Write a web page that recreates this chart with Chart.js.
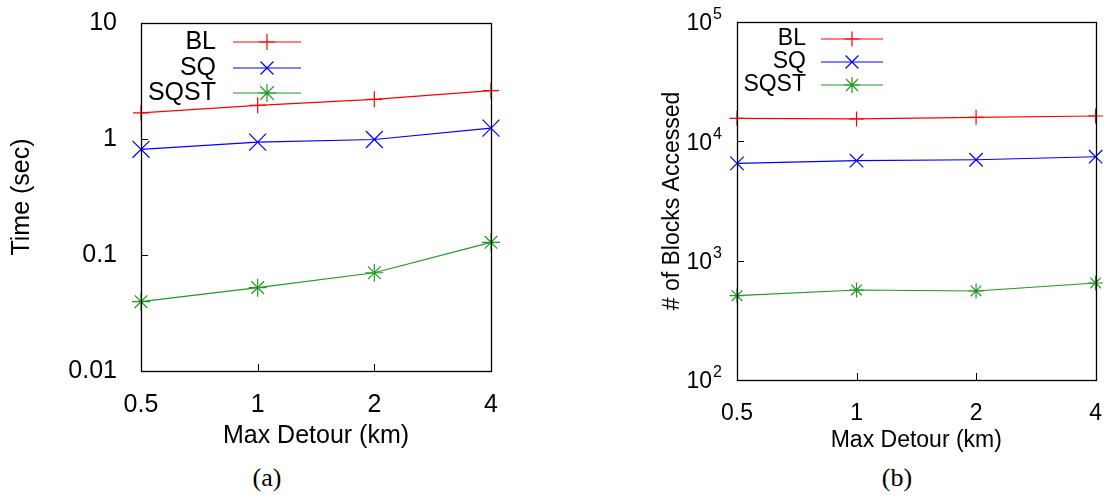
<!DOCTYPE html>
<html>
<head>
<meta charset="utf-8">
<script src="https://cdn.jsdelivr.net/npm/chart.js@4"></script>
<style>
  body { margin: 0; background: #fff; width: 1107px; height: 498px; overflow: hidden; position: relative; }
  .box { position: absolute; }
  .cap { position: absolute; width: 100px; text-align: center; font: 26px "Liberation Serif", "Times New Roman", serif; line-height: 30px; color: #000; }
</style>
</head>
<body>
<div class="box" style="left:0;top:-8px;width:520px;height:459px"><canvas id="timeChart"></canvas></div>
<div class="box" style="left:650px;top:0;width:464px;height:454px"><canvas id="blockChart"></canvas></div>
<div class="cap" style="left:217px;top:463px">(a)</div>
<div class="cap" style="left:847px;top:463px">(b)</div>
<script>
// data
const detours = ['0.5', '1', '2', '4'];
const seriesNames = ['BL', 'SQ', 'SQST'];

const timeBL = [1.68, 1.95, 2.2, 2.61];
const timeSQ = [0.815, 0.94, 0.99, 1.24];
const timeSQST = [0.0396, 0.0523, 0.0703, 0.1286];
const timeTicks = [0.01, 0.1, 1, 10];
const timeTickLabels = ['0.01', '0.1', '1', '10'];

const blocksBL = [15600, 15400, 15900, 16300];
const blocksSQ = [6540, 6880, 7010, 7430];
const blocksSQST = [509, 568, 557, 650];
const blockTicks = [100, 1000, 10000, 100000];
const blockTickBase = '10';
const blockTickExp = ['2', '3', '4', '5'];

const FONT = '"Liberation Sans", Arial, sans-serif';
const colors = ['#ff0000', '#0000ff', '#229922'];
const styles = ['cross', 'crossRot', 'star'];

function drawMarker(ctx, style, x, y, r) {
    ctx.beginPath();
    if (style === 'cross' || style === 'star') {
        ctx.moveTo(x - r, y); ctx.lineTo(x + r, y);
        ctx.moveTo(x, y - r); ctx.lineTo(x, y + r);
    }
    if (style === 'crossRot' || style === 'star') {
        const d = style === 'star' ? r * 0.75 : r * 0.72;
        ctx.moveTo(x - d, y - d); ctx.lineTo(x + d, y + d);
        ctx.moveTo(x - d, y + d); ctx.lineTo(x + d, y - d);
    }
    ctx.stroke();
}

// legend inside the plot: text on the left, sample line on the right
const insideLegend = {
    id: 'insideLegend',
    afterDraw(chart, args, opts) {
        const ctx = chart.ctx;
        ctx.save();
        ctx.font = opts.fontSize + 'px ' + FONT;
        ctx.textAlign = 'right';
        ctx.textBaseline = 'middle';
        chart.data.datasets.forEach((ds, i) => {
            const y = opts.rowY[i];
            ctx.fillStyle = '#000';
            ctx.fillText(ds.label, opts.textRight, y);
            ctx.strokeStyle = ds.borderColor;
            ctx.lineWidth = 1.2;
            ctx.beginPath();
            ctx.moveTo(opts.lineStart, y);
            ctx.lineTo(opts.lineEnd, y);
            ctx.stroke();
            drawMarker(ctx, ds.pointStyle, (opts.lineStart + opts.lineEnd) / 2, y, opts.markerSize[i]);
        });
        ctx.restore();
    }
};

// 10^n labels with a raised exponent
const powerLabels = {
    id: 'powerLabels',
    afterDraw(chart, args, opts) {
        if (!opts.exps) return;
        const ctx = chart.ctx;
        const s = chart.scales.y;
        const right = chart.chartArea.left - opts.gap;
        ctx.save();
        ctx.fillStyle = '#000';
        ctx.textBaseline = 'middle';
        s.ticks.forEach((t, i) => {
            const py = s.getPixelForValue(t.value);
            ctx.font = opts.expSize + 'px ' + FONT;
            const ew = ctx.measureText(opts.exps[i]).width;
            ctx.textAlign = 'left';
            ctx.fillText(opts.exps[i], right - ew, py - 7);
            ctx.font = opts.size + 'px ' + FONT;
            ctx.textAlign = 'right';
            ctx.fillText(opts.base, right - ew - 1, py + 2);
        });
        ctx.restore();
    }
};

// frame and inward tick marks, gnuplot style
const frameTicks = {
    id: 'frameTicks',
    afterDraw(chart) {
        const ctx = chart.ctx;
        const a = chart.chartArea;
        ctx.save();
        ctx.strokeStyle = '#000';
        ctx.lineWidth = 1;
        ctx.beginPath();
        const yScale = chart.scales.y;
        yScale.ticks.forEach(t => {
            const py = Math.round(yScale.getPixelForValue(t.value)) + 0.5;
            ctx.moveTo(a.left, py);
            ctx.lineTo(a.left + 7, py);
        });
        const xScale = chart.scales.x;
        xScale.ticks.forEach((t, i) => {
            const px = Math.round(xScale.getPixelForTick(i)) + 0.5;
            ctx.moveTo(px, a.bottom);
            ctx.lineTo(px, a.bottom - 7);
        });
        ctx.stroke();
        ctx.lineWidth = 1.3;
        ctx.strokeRect(Math.round(a.left) + 0.5, Math.round(a.top) + 0.5,
            Math.round(a.right - a.left), Math.round(a.bottom - a.top));
        ctx.restore();
    }
};

function makeDatasets(values, radii) {
    return values.map((v, i) => ({
        label: seriesNames[i],
        data: v,
        borderColor: colors[i],
        backgroundColor: colors[i],
        borderWidth: 1.2,
        pointStyle: styles[i],
        pointRadius: radii[i],
        pointBorderWidth: 1.2,
        pointHoverRadius: radii[i],
        fill: false,
        tension: 0,
        clip: false
    }));
}

function makeChart(id, cfg) {
    return new Chart(document.getElementById(id).getContext('2d'), {
        type: 'line',
        data: {
            labels: detours,
            datasets: makeDatasets(cfg.values, cfg.radii)
        },
        options: {
            responsive: true,
            maintainAspectRatio: false,
            animation: false,
            events: [],
            layout: { padding: cfg.padding },
            plugins: {
                legend: { display: false },
                tooltip: { enabled: false },
                insideLegend: cfg.legend,
                powerLabels: cfg.power || {}
            },
            scales: {
                x: {
                    type: 'category',
                    offset: false,
                    grid: { display: false },
                    border: { display: false },
                    ticks: {
                        color: '#000',
                        font: { family: FONT, size: cfg.fontSize },
                        padding: cfg.xTickPad,
                        maxRotation: 0,
                        autoSkip: false
                    },
                    title: {
                        display: true,
                        text: 'Max Detour (km)',
                        color: '#000',
                        font: { family: FONT, size: cfg.fontSize },
                        padding: 0
                    },
                    afterFit: s => { s.height = cfg.xHeight; }
                },
                y: {
                    type: 'logarithmic',
                    min: cfg.ticks[0],
                    max: cfg.ticks[cfg.ticks.length - 1],
                    grid: { display: false },
                    border: { display: false },
                    afterBuildTicks: s => { s.ticks = cfg.ticks.map(v => ({ value: v })); },
                    ticks: {
                        display: !cfg.power,
                        color: '#000',
                        font: { family: FONT, size: cfg.fontSize },
                        padding: cfg.yTickPad,
                        callback: (v, i) => cfg.tickLabels ? cfg.tickLabels[i] : ''
                    },
                    title: {
                        display: true,
                        text: cfg.yTitle,
                        color: '#000',
                        font: { family: FONT, size: cfg.fontSize },
                        padding: { top: cfg.yTitlePad, bottom: 0 }
                    },
                    afterFit: s => { s.width = cfg.yWidth; }
                }
            }
        },
        plugins: [insideLegend, powerLabels, frameTicks]
    });
}

makeChart('timeChart', {
    values: [timeBL, timeSQ, timeSQST],
    radii: [8, 12, 9],
    ticks: timeTicks,
    tickLabels: timeTickLabels,
    yTitle: 'Time (sec)',
    fontSize: 25,
    padding: { top: 0, right: 29, bottom: 0, left: 0 },
    xHeight: 80,
    yWidth: 141,
    xTickPad: 11,
    yTickPad: 16,
    yTitlePad: 7,
    legend: { fontSize: 25, textRight: 216, lineStart: 233, lineEnd: 301, rowY: [50, 76, 101], markerSize: [8, 9, 9] }
});

makeChart('blockChart', {
    values: [blocksBL, blocksSQ, blocksSQST],
    radii: [7.5, 9.5, 7.5],
    ticks: blockTicks,
    power: { base: blockTickBase, exps: blockTickExp, size: 23, expSize: 16, gap: 15 },
    yTitle: '# of Blocks Accessed',
    fontSize: 23,
    padding: { top: 22, right: 0, bottom: 0, left: 0 },
    xHeight: 74,
    yWidth: 87,
    xTickPad: 12,
    yTickPad: 15,
    yTitlePad: 9,
    legend: { fontSize: 23, textRight: 156, lineStart: 171, lineEnd: 233, rowY: [39, 62, 85], markerSize: [7.5, 9, 8] }
});
</script>
</body>
</html>
